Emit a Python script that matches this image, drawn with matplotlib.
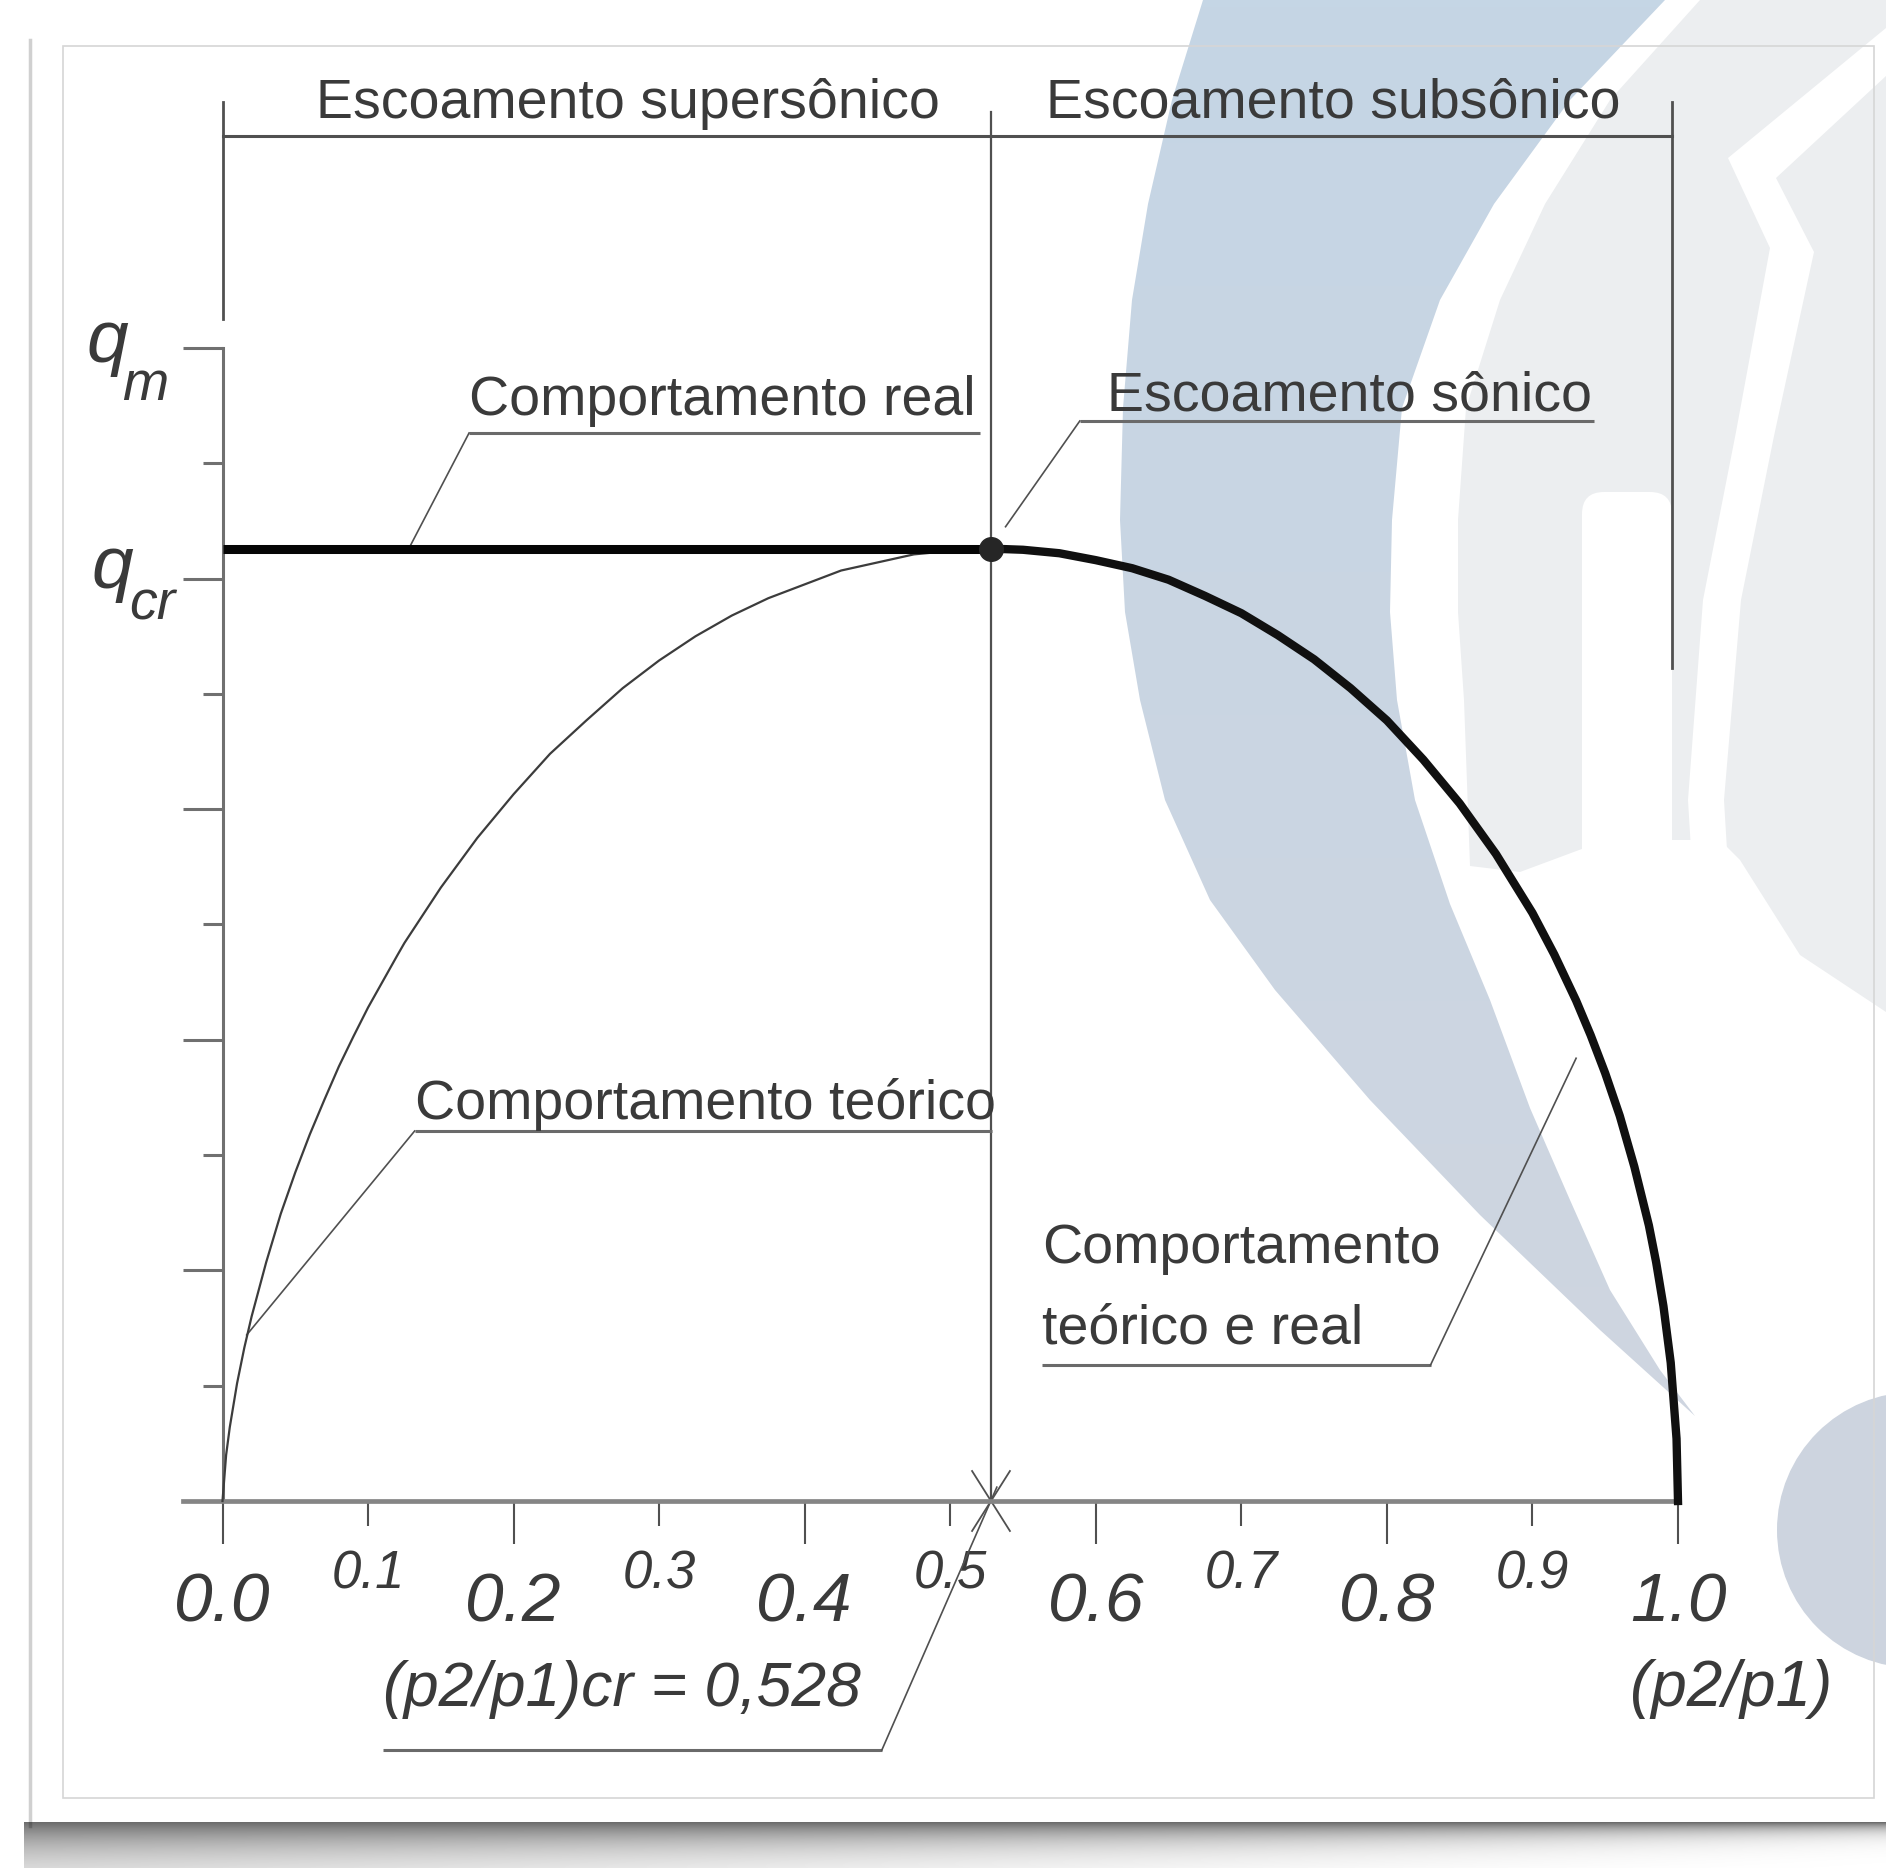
import numpy as np
import matplotlib.pyplot as plt
from matplotlib.patches import Polygon, Circle, FancyBboxPatch, Rectangle

plt.rcParams['font.family'] = ['Liberation Sans', 'DejaVu Sans']

# vazão mássica (fração de q_m) em função de p2/p1
r_teorico = [0.0, 0.0025, 0.005, 0.01, 0.015, 0.02, 0.03, 0.04, 0.05, 0.06, 0.07, 0.08,
             0.09, 0.10, 0.12, 0.125, 0.15, 0.175, 0.20, 0.225, 0.25, 0.275, 0.30, 0.325,
             0.35, 0.375, 0.40, 0.425, 0.45, 0.475, 0.50, 0.528]
q_teorico = [0.0, 0.040, 0.064, 0.102, 0.133, 0.160, 0.207, 0.249, 0.285, 0.318, 0.348,
             0.377, 0.403, 0.428, 0.473, 0.484, 0.532, 0.575, 0.613, 0.648, 0.677, 0.705,
             0.729, 0.750, 0.768, 0.783, 0.795, 0.807, 0.814, 0.821, 0.824, 0.826]
r_subsonico = [0.528, 0.55, 0.575, 0.60, 0.625, 0.65, 0.675, 0.70, 0.725, 0.75, 0.775,
               0.80, 0.825, 0.85, 0.875, 0.90, 0.915, 0.93, 0.94, 0.95, 0.96, 0.97, 0.98,
               0.985, 0.99, 0.995, 0.999, 1.0]
q_subsonico = [0.826, 0.825, 0.822, 0.816, 0.809, 0.799, 0.785, 0.770, 0.751, 0.730,
               0.705, 0.677, 0.643, 0.605, 0.561, 0.510, 0.474, 0.434, 0.404, 0.371,
               0.334, 0.290, 0.239, 0.207, 0.169, 0.120, 0.054, 0.0]
r_cr = 0.528
q_patamar = 0.826

x_maiores = [0.0, 0.2, 0.4, 0.6, 0.8, 1.0]
rot_maiores = ['0.0', '0.2', '0.4', '0.6', '0.8', '1.0']
x_menores = [0.1, 0.3, 0.5, 0.7, 0.9]
rot_menores = ['0.1', '0.3', '0.5', '0.7', '0.9']
y_maiores = [0.2, 0.4, 0.6, 0.8, 1.0]
y_menores = [0.1, 0.3, 0.5, 0.7, 0.9]

W, H = 1886, 1868
TXT = '#3a3a3a'
LIN = '#505050'

fig = plt.figure(figsize=(W / 100, H / 100), dpi=100)

# %% fundo: marca d'agua, moldura e sombra (coordenadas em pixels)
bg = fig.add_axes([0, 0, 1, 1])
bg.set_xlim(0, W)
bg.set_ylim(H, 0)
bg.axis('off')

cinza = Polygon([(1700, 0), (1610, 100), (1545, 204), (1500, 300), (1466, 408),
                 (1458, 520), (1458, 612), (1464, 700), (1470, 866), (1520, 872),
                 (1606, 840), (1720, 840), (1740, 860), (1800, 955), (1886, 1012),
                 (1886, 0)], closed=True, fc='#eceef0', ec='none', zorder=1)
bg.add_patch(cinza)
bg.add_patch(FancyBboxPatch((1582, 492), 90, 390, boxstyle='round,pad=0,rounding_size=22',
                            fc='white', ec='none', zorder=2))
faixa = Polygon([(1886, 28), (1728, 158), (1770, 248), (1736, 432), (1703, 600),
                 (1688, 800), (1694, 900), (1730, 900), (1724, 800), (1741, 600),
                 (1774, 436), (1814, 252), (1776, 178), (1886, 76)],
                closed=True, fc='white', ec='none', zorder=2)
bg.add_patch(faixa)

borda_ext = [(1203, 0), (1172, 100), (1148, 204), (1132, 300), (1123, 408), (1120, 520),
             (1125, 612), (1140, 700), (1165, 800), (1210, 900), (1275, 990), (1370, 1100),
             (1480, 1215), (1600, 1330), (1695, 1416)]
borda_int = [(1665, 0), (1570, 100), (1494, 204), (1440, 300), (1402, 408), (1392, 520),
             (1390, 612), (1397, 700), (1415, 800), (1450, 904), (1490, 1000), (1530, 1108),
             (1570, 1200), (1610, 1290), (1660, 1370)]
crescente = Polygon(borda_ext + borda_int[::-1], closed=True, fc='none', ec='none')
bg.add_patch(crescente)
grad = np.linspace(0, 1, 200)[:, None, None]
topo = np.array([197, 214, 229]) / 255
base = np.array([207, 213, 224]) / 255
img = (topo + (base - topo) * grad) * np.ones((1, 2, 1))
im = bg.imshow(img, extent=(1100, 1720, 1430, 0), aspect='auto', zorder=3)
im.set_clip_path(crescente)
bg.add_patch(Circle((1915, 1530), 138, fc='#cdd4df', ec='none', zorder=3))

bg.add_patch(Rectangle((63, 46), 1811, 1752, fc='none', ec='#d6d6d6', lw=1.2, zorder=4))
bg.plot([30, 30], [40, 1826], color='#d0d0d0', lw=2.5, zorder=4)

# sombra inferior do cartão
ys = np.arange(1818, 1868)[:, None]
xs = np.arange(24, 1886)[None, :]
esp = 34 - 26 * (xs - 24) / 1862.0
alfa = np.where(ys >= 1822, 0.58 * np.exp(-(ys - 1822) / esp), 0.0)
sombra = np.zeros((ys.shape[0], xs.shape[1], 4))
sombra[..., 3] = alfa
bg.imshow(sombra, extent=(24, 1886, 1868, 1818), aspect='auto', zorder=5)
bg.set_xlim(0, W)
bg.set_ylim(H, 0)

# %% grafico
ax = fig.add_axes([0, 0, 1, 1])
ax.set_facecolor('none')
ax.set_xlim(-0.15287, 1.14291)
ax.set_ylim(-0.31830, 1.30182)

for s in ['top', 'right']:
    ax.spines[s].set_visible(False)
ax.spines['bottom'].set_position(('data', 0))
ax.spines['bottom'].set_bounds(-0.027, 1.0)
ax.spines['bottom'].set_color('#858585')
ax.spines['bottom'].set_linewidth(3.4)
ax.spines['left'].set_position(('data', 0))
ax.spines['left'].set_bounds(0, 1.0)
ax.spines['left'].set_color('#707070')
ax.spines['left'].set_linewidth(2.2)

ax.set_xticks(x_maiores, rot_maiores, fontsize=50, fontstyle='italic', color=TXT)
ax.set_xticks(x_menores, rot_menores, minor=True, fontsize=38, fontstyle='italic', color=TXT)
ax.tick_params(axis='x', which='major', length=31, width=1.5, color=LIN, pad=20)
ax.tick_params(axis='x', which='minor', length=18, width=1.5, color=LIN, pad=17)
ax.set_yticks(y_maiores, [])
ax.set_yticks(y_menores, [], minor=True)
ax.tick_params(axis='y', which='major', length=29, width=2.2, color='#707070')
ax.tick_params(axis='y', which='minor', length=14.5, width=2.2, color='#707070')

# curvas
ax.plot(r_teorico, q_teorico, color='#3c3c3c', lw=1.6, zorder=3)
ax.plot([0, r_cr], [q_patamar, q_patamar], color='#050505', lw=6.5,
        solid_capstyle='butt', zorder=4)
ax.plot(r_subsonico, q_subsonico, color='#101010', lw=6.0, zorder=4)
ax.plot([r_cr], [q_patamar], 'o', color='#262626', ms=17, zorder=5)

# linha critica e chaves superiores
ax.plot([r_cr, r_cr], [0, 1.2047], color=LIN, lw=1.6)
ax.plot([0, 0], [1.0252, 1.2134], color=LIN, lw=2.0)
ax.plot([0.996, 0.996], [0.7225, 1.2134], color=LIN, lw=2.0)
ax.plot([0, 0.996], [1.1839, 1.1839], color=LIN, lw=2.2)
ax.plot([r_cr - 0.013, r_cr + 0.013], [-0.026, 0.026], color=LIN, lw=1.3)
ax.plot([r_cr - 0.013, r_cr + 0.013], [0.026, -0.026], color=LIN, lw=1.3)

fs = 40
ax.text(0.064, 1.1995, 'Escoamento supersônico', fontsize=fs, color=TXT)
ax.text(0.5658, 1.1995, 'Escoamento subsônico', fontsize=fs, color=TXT)

# rotulos com linhas de chamada
sub = dict(color='#6a6a6a', lw=2.2, solid_capstyle='butt')
cham = dict(color=LIN, lw=1.2)

ax.text(0.1694, 0.9419, 'Comportamento real', fontsize=fs, color=TXT)
ax.plot([0.1694, 0.5204], [0.9263, 0.9263], **sub)
ax.plot([0.1694, 0.128], [0.9263, q_patamar], **cham)

ax.text(0.6076, 0.9454, 'Escoamento sônico', fontsize=fs, color=TXT)
ax.plot([0.589, 0.9423], [0.9367, 0.9367], **sub)
ax.plot([0.589, r_cr + 0.01], [0.9367, 0.845], **cham)

ax.text(0.132, 0.3313, 'Comportamento teórico', fontsize=fs, color=TXT)
ax.plot([0.132, 0.529], [0.3209, 0.3209], **sub)
ax.plot([0.132, 0.0166], [0.3209, 0.144], **cham)

ax.text(0.563, 0.2064, 'Comportamento', fontsize=fs, color=TXT)
ax.text(0.563, 0.1366, 'teórico e real', fontsize=fs, color=TXT)
ax.plot([0.563, 0.830], [0.118, 0.118], **sub)
ax.plot([0.830, 0.930], [0.118, 0.384], **cham)

ax.text(0.110, -0.178, '(p2/p1)cr = 0,528', fontsize=45, fontstyle='italic', color=TXT)
ax.plot([0.110, 0.453], [-0.216, -0.216], **sub)
ax.plot([0.453, r_cr + 0.004], [-0.216, 0.012], **cham)

ax.text(0.967, -0.178, '(p2/p1)', fontsize=46, fontstyle='italic', color=TXT)

# rotulos do eixo vertical
ax.text(-0.0935, 0.9879, 'q', fontsize=54, fontstyle='italic', color=TXT)
ax.text(-0.0690, 0.9549, 'm', fontsize=40, fontstyle='italic', color=TXT)
ax.text(-0.0900, 0.7918, 'q', fontsize=54, fontstyle='italic', color=TXT)
ax.text(-0.0640, 0.7641, 'cr', fontsize=40, fontstyle='italic', color=TXT)

fig.savefig('out.png', dpi=100)
